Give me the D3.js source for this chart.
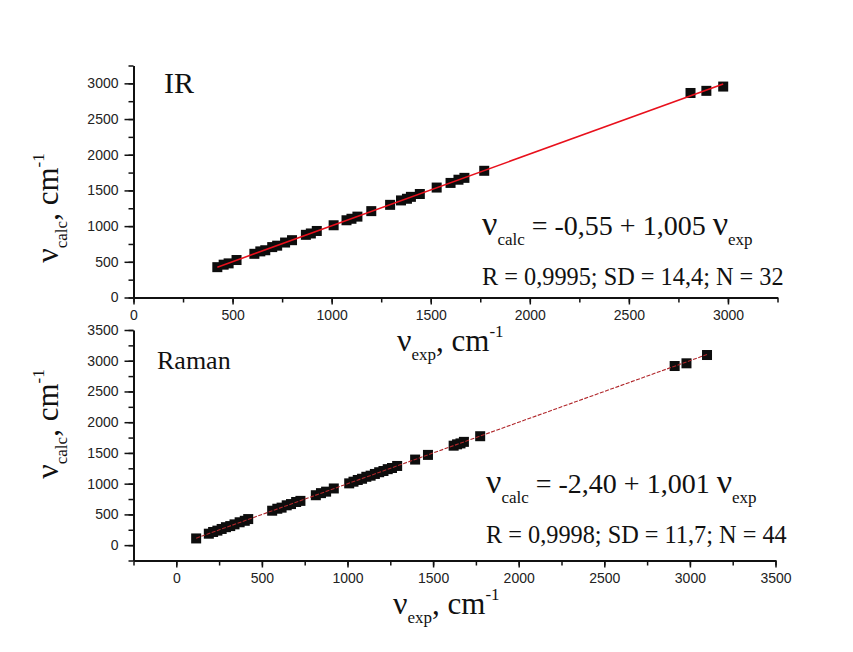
<!DOCTYPE html>
<html>
<head>
<meta charset="utf-8">
<script src="https://cdn.jsdelivr.net/npm/d3@7"></script>
<style>
  html, body { margin: 0; padding: 0; background: #fff; }
  svg { display: block; }
  .tick text { font-family: "Liberation Sans", Arial, sans-serif; font-size: 14px; fill: #222; }
  .serif { font-family: "Liberation Serif", "Times New Roman", serif; fill: #111; }
</style>
</head>
<body>
<svg id="chart" width="853" height="652"></svg>
<script>
// IR: experimental vs calculated wavenumbers (cm-1)
const irExp  = [423, 455, 480, 520, 610, 640, 665, 700, 725, 765, 800, 870, 895, 925, 1010, 1075,
                1100, 1130, 1200, 1295, 1350, 1380, 1400, 1445, 1530, 1600, 1640, 1670, 1770,
                2811, 2891, 2976];
const irCalc = [425, 460, 478, 525, 612, 646, 662, 706, 726, 770, 803, 878, 897, 932, 1012, 1082,
                1103, 1133, 1210, 1298, 1360, 1383, 1410, 1450, 1540, 1605, 1650, 1676, 1775,
                2865, 2895, 2955];
const irFit = [-0.55, 1.005];          // intercept, slope
const irStats = "R = 0,9995; SD = 14,4; N = 32";

// Raman: experimental vs calculated wavenumbers (cm-1)
const ramanExp  = [116, 190, 215, 240, 265, 290, 315, 340, 370, 400, 420,
                   560, 590, 615, 645, 670, 700, 725,
                   815, 845, 875, 920,
                   1010, 1035, 1060, 1085, 1110, 1135, 1160, 1185, 1210, 1235, 1260, 1290,
                   1395, 1470, 1620, 1640, 1660, 1680, 1775,
                   2911, 2980, 3100];
const ramanCalc = [109, 186, 214, 236, 263, 292, 310, 338, 372, 396, 424,
                   560, 592, 610, 648, 668, 702, 720,
                   812, 846, 870, 922,
                   1005, 1032, 1060, 1080, 1112, 1130, 1158, 1186, 1206, 1236, 1255, 1288,
                   1392, 1468, 1618, 1640, 1655, 1680, 1772,
                   2914, 2958, 3093];
const ramanFit = [-2.40, 1.001];
const ramanStats = "R = 0,9998; SD = 11,7; N = 44";

// Axis tick values
const irXTicks = [0, 500, 1000, 1500, 2000, 2500, 3000];
const irYTicks = [0, 500, 1000, 1500, 2000, 2500, 3000];
const ramanXTicks = [0, 500, 1000, 1500, 2000, 2500, 3000, 3500];
const ramanYTicks = [0, 500, 1000, 1500, 2000, 2500, 3000, 3500];

const svg = d3.select("#chart");
const fmtComma = v => v.toFixed(2).replace(".", ",");

// Writes a run of text pieces; each piece may be a subscript/superscript.
function richText(parent, x, y, parts, anchor, rotate) {
  const t = parent.append("text").attr("class", "serif")
    .attr("text-anchor", anchor || "start");
  if (rotate) t.attr("transform", `translate(${x},${y}) rotate(-90)`);
  else t.attr("x", x).attr("y", y);
  parts.forEach(p => {
    t.append("tspan").text(p.t)
      .attr("font-size", p.size)
      .attr("baseline-shift", p.shift || null);
  });
  return t;
}

function panel(cfg) {
  const g = svg.append("g");
  const x = d3.scaleLinear().domain(cfg.xDomain).range(cfg.xRange);
  const y = d3.scaleLinear().domain(cfg.yDomain).range(cfg.yRange);
  const minorX = d3.range(cfg.xDomain[0], cfg.xDomain[1] + 1, 250);
  const minorY = d3.range(cfg.yDomain[0], cfg.yDomain[1] + 1, 250);

  // minor ticks
  g.append("g").attr("transform", `translate(0,${cfg.yRange[0]})`)
    .call(d3.axisBottom(x).tickValues(minorX).tickSize(5).tickFormat(""))
    .call(a => a.select(".domain").remove())
    .call(a => a.selectAll("line").attr("stroke", "#111").attr("stroke-width", 1.5));
  g.append("g").attr("transform", `translate(${cfg.xRange[0]},0)`)
    .call(d3.axisLeft(y).tickValues(minorY).tickSize(5).tickFormat(""))
    .call(a => a.select(".domain").remove())
    .call(a => a.selectAll("line").attr("stroke", "#111").attr("stroke-width", 1.5));

  // major ticks + labels
  g.append("g").attr("transform", `translate(0,${cfg.yRange[0]})`)
    .call(d3.axisBottom(x).tickValues(cfg.xTicks).tickSize(7).tickSizeOuter(0).tickPadding(6).tickFormat(d3.format("d")))
    .call(a => a.select(".domain").attr("stroke", "#111").attr("stroke-width", 2))
    .call(a => a.selectAll("line").attr("stroke", "#111").attr("stroke-width", 1.5));
  g.append("g").attr("transform", `translate(${cfg.xRange[0]},0)`)
    .call(d3.axisLeft(y).tickValues(cfg.yTicks).tickSize(9).tickSizeOuter(0).tickPadding(6).tickFormat(d3.format("d")))
    .call(a => a.select(".domain").attr("stroke", "#111").attr("stroke-width", 2))
    .call(a => a.selectAll("line").attr("stroke", "#111").attr("stroke-width", 1.5));

  // fitted line over the data range
  const [b0, b1] = cfg.fit;
  const xs = d3.extent(cfg.xs);
  const fitLine = d3.line().x(d => x(d[0])).y(d => y(d[1]));
  const fitPts = xs.map(v => [v, b0 + b1 * v]);

  // points
  const s = cfg.markerSize;
  g.append("g").selectAll("rect")
    .data(cfg.xs.map((v, i) => [v, cfg.ys[i]]))
    .join("rect")
    .attr("x", d => x(d[0]) - s / 2)
    .attr("y", d => y(d[1]) - s / 2)
    .attr("width", s).attr("height", s)
    .attr("fill", "#0d0d0d");

  // fitted line drawn over the squares
  g.append("path")
    .datum(fitPts)
    .attr("d", fitLine)
    .attr("fill", "none")
    .attr("stroke", cfg.lineColor)
    .attr("stroke-width", cfg.lineWidth)
    .attr("stroke-dasharray", cfg.dash || null);

  return { g, x, y };
}

const irPanel = panel({
  xDomain: [0, 3250], xRange: [133.5, 777.5],
  yDomain: [0, 3250], yRange: [297.5, 65.5],
  xTicks: irXTicks, yTicks: irYTicks,
  xs: irExp, ys: irCalc, fit: irFit,
  lineColor: "#e8101c", lineWidth: 1.6, markerSize: 10
});

const ramanPanel = panel({
  xDomain: [-250, 3500], xRange: [133.5, 775.5],
  yDomain: [-250, 3500], yRange: [560.5, 330],
  xTicks: ramanXTicks, yTicks: ramanYTicks,
  xs: ramanExp, ys: ramanCalc, fit: ramanFit,
  lineColor: "#b0262a", lineWidth: 1.1, dash: "4,1.5", markerSize: 10
});

// panel labels
svg.append("text").attr("class", "serif").attr("x", 164).attr("y", 93)
  .attr("font-size", 30).text("IR");
svg.append("text").attr("class", "serif").attr("x", 157).attr("y", 369)
  .attr("font-size", 26).text("Raman");

// regression equations and statistics
function equation(x, y, fit, stats) {
  const b0 = fmtComma(fit[0]);
  const b1 = fit[1].toFixed(3).replace(".", ",");
  richText(svg, x, y, [
    { t: "ν", size: 34 },
    { t: "calc", size: 17, shift: "-10" },
    { t: " = " + b0 + " + " + b1 + " ", size: 28 },
    { t: "ν", size: 34 },
    { t: "exp", size: 17, shift: "-10" }
  ]);
  svg.append("text").attr("class", "serif").attr("x", x).attr("y", y + 50)
    .attr("font-size", 24.3).text(stats);
}
equation(482, 235, irFit, irStats);
equation(486, 493, ramanFit, ramanStats);

// axis titles
const titleParts = sub => [
  { t: "ν", size: 32 },
  { t: sub, size: 17, shift: "-9" },
  { t: ", cm", size: 31 },
  { t: "-1", size: 17, shift: "14" }
];
richText(svg, 397, 351, titleParts("exp"));
richText(svg, 393, 614, titleParts("exp"));
richText(svg, 58, 208, titleParts("calc"), "middle", true);
richText(svg, 58, 424, titleParts("calc"), "middle", true);
</script>
</body>
</html>
